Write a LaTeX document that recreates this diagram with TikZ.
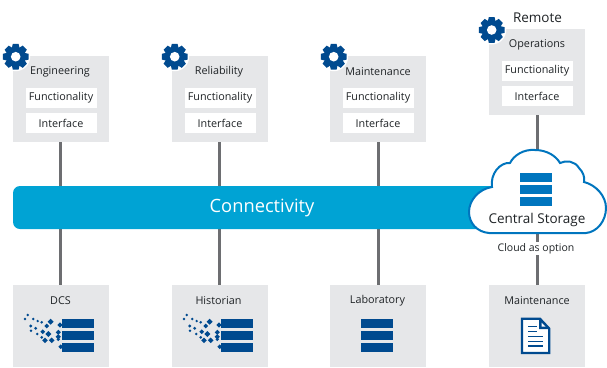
\documentclass[tikz,border=0pt]{standalone}
\usepackage{fontspec}
\setmainfont{Open Sans}
\definecolor{panelgrey}{HTML}{E6E7E9}
\definecolor{linkgrey}{HTML}{6D6E71}
\definecolor{barblue}{HTML}{00A3D4}
\definecolor{cloudblue}{HTML}{0075BE}
\definecolor{darkblue}{HTML}{004A8F}
\definecolor{inkgrey}{HTML}{1F2326}
\tikzset{
    panel/.style={fill=panelgrey, minimum width=96pt, inner sep=0pt},
    toppanel/.style={panel, minimum height=86pt},
    lowpanel/.style={panel, minimum height=82pt},
    slot/.style={fill=white, minimum width=71pt, minimum height=20pt, inner sep=0pt,
        text=inkgrey, font=\fontsize{10.8}{12}\selectfont},
    caption/.style={inner sep=0pt, text=inkgrey, font=\fontsize{10.8}{12}\selectfont},
    link/.style={line width=3pt, linkgrey},
    pics/gear/.style={code={
        \fill[white] (0,0) circle (14.5);
        \foreach \a in {0,45,...,315}
            \fill[darkblue, rotate=\a] (-4,-8) -- (-2.9,-12.8) -- (2.9,-12.8) -- (4,-8) -- cycle;
        \fill[darkblue] (0,0) circle (9.8);
        \fill[white] (0,0) circle (4.8);
    }},
    pics/stack/.style={code={
        \fill (0,0) rectangle (32,9);
        \fill (0,12) rectangle (32,21);
        \fill (0,24) rectangle (32,33);
    }},
    pics/grains/.style={code={
        \foreach \px/\py/\r in {27.7/35/1.4, 25/39/1.4, 33.3/39/1.4, 37.7/41/1.3, 41.7/42.3/1.4,
            50.7/41.7/3, 60/45/2.6, 30.7/46/1.6, 35.7/48.3/1.6, 31/50.7/1.4, 46.7/46/2.4,
            42.7/51.7/2.4, 48.3/54/3, 58.3/52.3/2.6, 37.3/54/1.4, 58.3/56.7/2.6, 41.7/57.3/1.5,
            45/60.3/2.8, 51.7/60.3/2.8, 60.7/66.7/2.4, 58.3/59.3/1.8}
            \fill (\px-\r,\py) -- (\px,\py-\r) -- (\px+\r,\py) -- (\px,\py+\r) -- cycle;
    }}
}
\begin{document}
\begin{tikzpicture}[x=1pt, y=-1pt]
    \useasboundingbox (0,0) rectangle (607,367);

    % upper panels
    \begin{scope}
        \node[toppanel] (eng) at (61,99) {};
        \node[caption] (engname) at (60,72) {Engineering};
        \node[slot] (engfunc) at (61,97.5) {Functionality};
        \node[slot] (engif) at (61,123) {Interface};
        \pic at (15.7,56.7) {gear};
    \end{scope}
    \begin{scope}[xshift=159pt]
        \node[toppanel] (rel) at (61,99) {};
        \node[caption] (relname) at (60,72) {Reliability};
        \node[slot] (relfunc) at (61,97.5) {Functionality};
        \node[slot] (relif) at (61,123) {Interface};
        \pic at (15.7,56.7) {gear};
    \end{scope}
    \begin{scope}[xshift=318pt]
        \node[toppanel] (mnt) at (60,99) {};
        \node[caption] (mntname) at (60,72) {Maintenance};
        \node[slot] (mntfunc) at (60,97.5) {Functionality};
        \node[slot] (mntif) at (60,123) {Interface};
        \pic at (15.7,56.7) {gear};
    \end{scope}
    \begin{scope}[xshift=476pt]
        \node[toppanel] (ops) at (61,72) {};
        \node[caption] (opsname) at (61,45) {Operations};
        \node[slot] (opsfunc) at (61,70.5) {Functionality};
        \node[slot] (opsif) at (61,96) {Interface};
        \pic at (15.7,30) {gear};
    \end{scope}
    \node[caption, font=\fontsize{13.5}{15}\selectfont] (remote) at (537.5,18) {Remote};

    % lower panels
    \node[lowpanel] (dcs) at (61,326) {};
    \node[caption] (dcsname) at (60.5,301) {DCS};
    \pic[darkblue] at (62,319) {stack};
    \pic[darkblue] at (0,280) {grains};

    \node[lowpanel] (hist) at (220,326) {};
    \node[caption] (histname) at (218.5,301) {Historian};
    \pic[darkblue] at (221,319) {stack};
    \pic[darkblue] at (159,280) {grains};

    \node[lowpanel] (lab) at (378,326) {};
    \node[caption] (labname) at (377.5,301) {Laboratory};
    \pic[darkblue] at (361,319) {stack};

    \node[lowpanel] (svc) at (537,326) {};
    \node[caption] (svcname) at (537,301) {Maintenance};

    % document icon
    \draw[darkblue, line width=2.2pt, fill=white, miter limit=4]
        (522,318.7) -- (540,318.7) -- (549.2,328.5) -- (549.2,353) -- (522,353) -- cycle;
    \fill[darkblue] (539,318.7) -- (539,329) -- (549.2,329) -- cycle;
    \fill[white] (541.5,322.5) -- (541.5,326.7) -- (545.5,326.7) -- cycle;
    \draw[darkblue, line width=1.3pt] (528,326.7) -- (537,326.7);
    \draw[darkblue, line width=1.3pt] (528,331.7) -- (537,331.7);
    \draw[darkblue, line width=1.3pt] (528,336.7) -- (543,336.7);
    \draw[darkblue, line width=1.3pt] (528,341.7) -- (543,341.7);
    \draw[darkblue, line width=1.3pt] (528,346) -- (543,346);

    % connectors
    \draw[link] ([xshift=-1pt]eng.south) -- ([xshift=-1pt]dcs.north);
    \draw[link] ([xshift=-1pt]rel.south) -- ([xshift=-1pt]hist.north);
    \draw[link] (mnt.south) -- (lab.north);
    \draw[link] (ops.south) -- (svc.north);

    % bar and cloud
    \node[fill=barblue, rounded corners=7pt, minimum width=500pt, minimum height=43pt,
        inner sep=0pt] (bar) at (263,207.5) {};
    \node[text=white, inner sep=0pt, font=\fontsize{18.3}{20}\selectfont] (barname) at (262,208) {Connectivity};
    \draw[cloudblue, line width=2pt, fill=white]
        (489,233) .. controls (477,232) and (469,223) .. (469,212)
        .. controls (469,200) and (479,189) .. (492,187)
        .. controls (490,174) and (500,162) .. (510,163)
        .. controls (514,155) and (524,149) .. (535,150)
        .. controls (547,150) and (556,156) .. (560,163)
        .. controls (566,160) and (575,161) .. (579,168)
        .. controls (583,172) and (585,177) .. (584,182)
        .. controls (596,185) and (606,196) .. (606,208)
        .. controls (606,221) and (597,232) .. (586,233) -- cycle;
    \pic[cloudblue] at (520,173) {stack};
    \node[caption, font=\fontsize{13.5}{15}\selectfont] (store) at (537,220) {Central Storage};
    \node[caption, fill=white, inner sep=1.5pt, font=\fontsize{10.5}{12}\selectfont] (opt) at (536,248.5) {Cloud as option};

\end{tikzpicture}
\end{document}
